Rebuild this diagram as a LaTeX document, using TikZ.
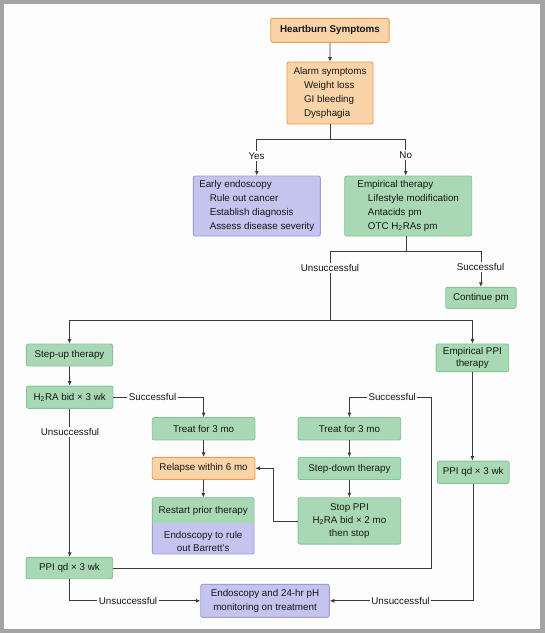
\documentclass[tikz,border=0pt]{standalone}
\usepackage{fontspec}
\setmainfont{Liberation Sans}
\usetikzlibrary{arrows.meta,calc}
\definecolor{ofill}{HTML}{F9D4A8}
\definecolor{oline}{HTML}{EE9A4A}
\definecolor{gfill}{HTML}{A9D9B4}
\definecolor{gline}{HTML}{86C496}
\definecolor{pfill}{HTML}{C4C4EE}
\definecolor{pline}{HTML}{9C9CD8}
\definecolor{bg}{HTML}{FCFDFC}
\definecolor{frame}{HTML}{A3A3A3}
\definecolor{lc}{HTML}{3A3A3A}
\definecolor{txt}{HTML}{151515}
\newcommand{\ind}{\hspace*{10.5pt}}
\newcommand{\sub}[1]{\textsubscript{#1}}
\begin{document}
\begin{tikzpicture}[x=1pt,y=-1pt,
  every node/.style={font=\fontsize{9.8}{13.7}\selectfont, text=txt},
  box/.style={draw, line width=0.9pt, rounded corners=2pt, inner sep=0pt, align=center},
  obox/.style={box, fill=ofill, draw=oline},
  gbox/.style={box, fill=gfill, draw=gline},
  pbox/.style={box, fill=pfill, draw=pline},
  conn/.style={draw=lc, line width=0.8pt},
  arr/.style={conn, -{Latex[length=4.5pt,width=4pt]}},
  lbl/.style={fill=bg, inner sep=1.5pt}]
\useasboundingbox (0,0) rectangle (545,633);
\fill[frame] (0,0) rectangle (545,633);
\fill[bg] (4,4) rectangle (539.5,628.5);

% boxes
\node[obox, minimum width=118.3, minimum height=24, font=\bfseries\fontsize{9.8}{13.7}\selectfont] (heart) at (329.9,30.3) {Heartburn Symptoms};
\node[obox, minimum width=86, minimum height=62, align=left] (alarm) at (330,93) {Alarm symptoms\\\ind Weight loss\\\ind GI bleeding\\\ind Dysphagia};
\node[pbox, minimum width=127, minimum height=60, align=left] (early) at (256.8,206) {Early endoscopy\\\ind Rule out cancer\\\ind Establish diagnosis\\\ind Assess disease severity};
\node[gbox, minimum width=127, minimum height=60, align=left] (emp) at (408.2,206) {Empirical therapy\\\ind Lifestyle modification\\\ind Antacids pm\\\ind OTC H\sub{2}RAs pm};
\node[gbox, minimum width=70.3, minimum height=21] (cont) at (480.9,297.8) {Continue pm};
\node[gbox, minimum width=86.3, minimum height=22] (stepup) at (69.5,355) {Step-up therapy};
\node[gbox, minimum width=72.7, minimum height=27.7, font=\fontsize{9.8}{12.3}\selectfont] (eppi) at (472.4,357.8) {Empirical PPI\\therapy};
\node[gbox, minimum width=86.5, minimum height=22.3] (h2ra) at (69.7,397.2) {H\sub{2}RA bid × 3 wk};
\node[gbox, minimum width=102.7, minimum height=22.3] (treatL) at (203.6,428.8) {Treat for 3 mo};
\node[obox, minimum width=102.7, minimum height=22] (relapse) at (203.6,468.3) {Relapse within 6 mo};
\node[gbox, minimum width=102.7, minimum height=22.3] (treatR) at (349.4,428.8) {Treat for 3 mo};
\node[gbox, minimum width=102.7, minimum height=22] (stepdown) at (349.4,468.5) {Step-down therapy};
\node[gbox, minimum width=102.7, minimum height=46.3, font=\fontsize{9.8}{12.9}\selectfont] (stoppi) at (349.4,520.9) {Stop PPI\\H\sub{2}RA bid × 2 mo\\then stop};
\node[gbox, minimum width=71.7, minimum height=22.3] (ppiR) at (473.2,472.2) {PPI qd × 3 wk};
\node[gbox, minimum width=86.7, minimum height=21.4] (ppiL) at (69.4,568) {PPI qd × 3 wk};
\node[pbox, minimum width=128.6, minimum height=33, font=\fontsize{9.8}{14.3}\selectfont] (endo) at (265,600.8) {Endoscopy and 24-hr pH\\monitoring on treatment};

% combined restart / Barrett box
\fill[pfill, rounded corners=2pt] (152.3,497.7) rectangle (254,554);
\fill[gfill, rounded corners=2pt] (152.3,497.7) rectangle (254,512);
\fill[gfill] (152.3,505) rectangle (254,523.3);
\draw[gline, line width=0.9pt, rounded corners=2pt] (152.3,523.3) -- (152.3,497.7) -- (254,497.7) -- (254,523.3);
\draw[pline, line width=0.9pt, rounded corners=2pt] (152.3,523.3) -- (152.3,554) -- (254,554) -- (254,523.3);
\node[inner sep=0pt, minimum width=101.7, minimum height=25.6] (restart) at (203.2,510.5) {Restart prior therapy};
\node[inner sep=0pt, align=center, font=\fontsize{9.8}{13}\selectfont] (barrett) at (203.2,541.6) {Endoscopy to rule\\out Barrett’s};

% connectors
\draw[arr] (heart.south) -- (alarm.north);
\coordinate (yn) at (330,139.3);
\draw[conn] (alarm.south) -- (yn);
\draw[arr] (yn) -| (early.north);
\draw[arr] (yn) -| ($(emp.north)+(-2.5,0)$);
\coordinate (es) at ($(emp.south)+(-2,15)$);
\draw[conn] ($(emp.south)+(-2,0)$) -- (es);
\draw[arr] (es) -| (cont.north);
\coordinate (hs) at (330,320.5);
\draw[conn] (es) -| (hs);
\draw[arr] (hs) -| (stepup.north);
\draw[arr] (hs) -| (eppi.north);
\draw[arr] (stepup.south) -- (h2ra.north);
\draw[arr] (h2ra.east) -| (treatL.north);
\draw[arr] (h2ra.south) -- (h2ra.south |- ppiL.north);
\draw[arr] (treatL.south) -- (relapse.north);
\draw[arr] (relapse.south) -- (restart.north);
\draw[arr] (treatR.south) -- (stepdown.north);
\draw[arr] (stepdown.south) -- (stoppi.north);
\draw[arr] (stoppi.west) -- ++(-24.7,0) |- (relapse.east);
\coordinate (sr) at (431.7,397.5);
\draw[arr] (ppiL.east) -| (sr) -| (treatR.north);
\draw[arr] (eppi.south) -- (eppi.south |- ppiR.north);
\draw[arr] (ppiR.south) |- (endo.east);
\draw[arr] (ppiL.south) |- (endo.west);

% labels
\node[lbl] at (256.5,156) {Yes};
\node[lbl] at (405.7,155) {No};
\node[lbl] at (330,267.7) {Unsuccessful};
\node[lbl] at (480.5,266.7) {Successful};
\node[lbl] at (152.5,397.3) {Successful};
\node[lbl] at (70,432) {Unsuccessful};
\node[lbl] at (392.2,397.3) {Successful};
\node[lbl] at (128,600.6) {Unsuccessful};
\node[lbl] at (400.5,600.6) {Unsuccessful};
\end{tikzpicture}
\end{document}
